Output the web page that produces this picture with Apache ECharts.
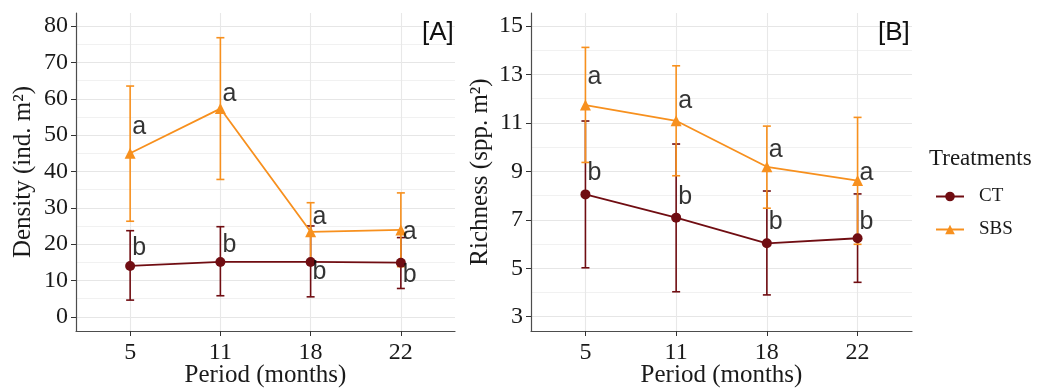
<!DOCTYPE html>
<html>
<head>
<meta charset="utf-8">
<script src="https://cdn.jsdelivr.net/npm/echarts@6/dist/echarts.min.js"></script>
<style>
  html, body { margin: 0; padding: 0; background: #fff; }
  #chart { width: 1038px; height: 389px; }
</style>
</head>
<body>
<div id="chart"></div>
<script>
// periods on the x axis (shown as evenly spaced categories)
const periods = ["5", "11", "18", "22"];
const treatments = ["CT", "SBS"];

// [A] density (ind. m2)
const densityCT = [14.0, 15.1, 15.1, 14.9];
const densityCTLow = [4.6, 5.8, 5.5, 7.8];
const densityCTHigh = [23.7, 24.8, 25.0, 21.8];
const densitySBS = [45.0, 57.3, 23.4, 23.9];
const densitySBSLow = [26.3, 37.8, 15.4, 13.8];
const densitySBSHigh = [63.5, 76.8, 31.4, 34.1];
const densityLetterCT = ["b", "b", "b", "b"];
const densityLetterCTAt = [18.9, 19.6, 12.4, 11.5];
const densityLetterSBS = ["a", "a", "a", "a"];
const densityLetterSBSAt = [52.3, 61.3, 27.5, 23.4];
const densityTicks = [0, 10, 20, 30, 40, 50, 60, 70, 80];
const densityMinor = [5, 15, 25, 35, 45, 55, 65, 75];

// [B] richness (spp. m2)
const richnessCT = [8.05, 7.09, 6.03, 6.24];
const richnessCTLow = [5.02, 4.03, 3.9, 4.42];
const richnessCTHigh = [11.08, 10.13, 8.19, 8.07];
const richnessSBS = [11.74, 11.09, 9.19, 8.62];
const richnessSBSLow = [9.37, 8.82, 7.48, 5.99];
const richnessSBSHigh = [14.12, 13.36, 10.87, 11.23];
const richnessLetterCT = ["b", "b", "b", "b"];
const richnessLetterCTAt = [8.92, 7.93, 6.92, 6.92];
const richnessLetterSBS = ["a", "a", "a", "a"];
const richnessLetterSBSAt = [12.88, 11.91, 9.88, 8.92];
const richnessTicks = [3, 5, 7, 9, 11, 13, 15];
const richnessMinor = [4, 6, 8, 10, 12, 14];

const colorCT = "#700d12";
const colorSBS = "#f7901e";
const serif = "Liberation Serif";
const sans = "Liberation Sans";

const chart = echarts.init(document.getElementById("chart"));

function errorBar(params, api) {
  const x = api.value(0);
  const lo = api.coord([x, api.value(1)]);
  const hi = api.coord([x, api.value(2)]);
  const w = 4;
  const style = { stroke: api.visual("color"), lineWidth: 1.6 };
  return {
    type: "group",
    children: [
      { type: "line", shape: { x1: lo[0], y1: lo[1], x2: hi[0], y2: hi[1] }, style },
      { type: "line", shape: { x1: lo[0] - w, y1: lo[1], x2: lo[0] + w, y2: lo[1] }, style },
      { type: "line", shape: { x1: hi[0] - w, y1: hi[1], x2: hi[0] + w, y2: hi[1] }, style },
    ],
  };
}

const points = (vals) => vals.map((v, i) => [i + 1, v]);
const bars = (lo, hi) => lo.map((v, i) => [i + 1, v, hi[i]]);
const letters = (at, txt) => at.map((v, i) => ({ value: [i + 1, v], name: txt[i] }));

function panelAxes(idx, yName, yMin, yMax, ticks, minor, nameGap) {
  const xAxis = {
    type: "value",
    gridIndex: idx,
    min: 0.4,
    max: 4.6,
    name: "Period (months)",
    nameLocation: "middle",
    nameGap: 32,
    nameMoveOverlap: false,
    nameTextStyle: { fontFamily: serif, fontSize: 25, color: "#1a1a1a" },
    axisLine: { show: true, onZero: false, lineStyle: { color: "#4d4d4d", width: 1.2 } },
    axisTick: { show: true, length: 5, customValues: [1, 2, 3, 4], lineStyle: { color: "#333" } },
    axisLabel: {
      customValues: [1, 2, 3, 4],
      formatter: (v) => periods[Math.round(v) - 1],
      fontFamily: serif,
      fontSize: 24,
      color: "#1a1a1a",
      margin: 10,
    },
    splitLine: { show: true, lineStyle: { color: "#e8e8e8", width: 1.1 } },
  };
  const yMajor = {
    type: "value",
    gridIndex: idx,
    min: yMin,
    max: yMax,
    name: yName,
    nameLocation: "middle",
    nameGap: nameGap,
    nameMoveOverlap: false,
    nameTextStyle: { fontFamily: serif, fontSize: 25, color: "#1a1a1a" },
    axisLine: { show: true, onZero: false, lineStyle: { color: "#4d4d4d", width: 1.2 } },
    axisTick: { show: true, length: 5, customValues: ticks, lineStyle: { color: "#333" } },
    axisLabel: { customValues: ticks, fontFamily: serif, fontSize: 24, color: "#1a1a1a", margin: 8 },
    splitLine: { show: true, lineStyle: { color: "#e6e6e6", width: 1.1 } },
  };
  const yMinor = {
    type: "value",
    gridIndex: idx,
    min: yMin,
    max: yMax,
    axisLine: { show: false, onZero: false },
    axisTick: { show: false, customValues: minor },
    axisLabel: { show: false, customValues: minor },
    splitLine: { show: true, lineStyle: { color: "#f1f1f1", width: 1 } },
  };
  return { xAxis, yAxes: [yMajor, yMinor] };
}

const axA = panelAxes(0, "Density (ind. m\u00b2)", -3.9, 83.6, densityTicks, densityMinor, 40);
const axB = panelAxes(1, "Richness (spp. m\u00b2)", 2.41, 15.54, richnessTicks, richnessMinor, 38);

function panelSeries(xi, yi, ct, ctLo, ctHi, sbs, sbsLo, sbsHi, ctAt, ctTxt, sbsAt, sbsTxt) {
  const common = { xAxisIndex: xi, yAxisIndex: yi, animation: false };
  const letterLabel = {
    show: true,
    position: "right",
    distance: 2,
    formatter: (p) => p.name,
    fontFamily: sans,
    fontSize: 25,
    color: "#000",
  };
  return [
    Object.assign({ type: "custom", renderItem: errorBar, itemStyle: { color: colorCT },
      encode: { x: 0, y: [1, 2] }, data: bars(ctLo, ctHi), z: 2 }, common),
    Object.assign({ type: "custom", renderItem: errorBar, itemStyle: { color: colorSBS },
      encode: { x: 0, y: [1, 2] }, data: bars(sbsLo, sbsHi), z: 2 }, common),
    Object.assign({ type: "line", name: "CT", data: points(ct), symbol: "circle", symbolSize: 10,
      itemStyle: { color: colorCT }, lineStyle: { color: colorCT, width: 1.8 }, z: 3 }, common),
    Object.assign({ type: "line", name: "SBS", data: points(sbs), symbol: "triangle", symbolSize: 11,
      itemStyle: { color: colorSBS }, lineStyle: { color: colorSBS, width: 1.8 }, z: 3 }, common),
    Object.assign({ type: "scatter", data: letters(ctAt, ctTxt), symbolSize: 0,
      label: letterLabel, z: 4, silent: true }, common),
    Object.assign({ type: "scatter", data: letters(sbsAt, sbsTxt), symbolSize: 0,
      label: letterLabel, z: 4, silent: true }, common),
  ];
}

const option = {
  backgroundColor: "#fff",
  animation: false,
  grid: [
    { left: 76, top: 13, width: 379, height: 318, outerBoundsMode: "none" },
    { left: 531, top: 13, width: 381, height: 318, outerBoundsMode: "none" },
  ],
  title: [
    { text: "[A]", left: 417, top: 15, textStyle: { fontFamily: sans, fontSize: 26, fontWeight: "normal", color: "#111" } },
    { text: "[B]", left: 873, top: 15, textStyle: { fontFamily: sans, fontSize: 26, fontWeight: "normal", color: "#111" } },
    { text: "Treatments", left: 924, top: 142, textStyle: { fontFamily: serif, fontSize: 23, fontWeight: "normal", color: "#1a1a1a" } },
  ],
  legend: {
    data: treatments,
    orient: "vertical",
    left: 930,
    top: 182,
    itemWidth: 28,
    itemHeight: 12,
    itemGap: 14,
    textStyle: { fontFamily: serif, fontSize: 19, color: "#1a1a1a", padding: [0, 0, 0, 10] },
  },
  xAxis: [axA.xAxis, Object.assign({}, axB.xAxis, { gridIndex: 1 })],
  yAxis: [axA.yAxes[0], axA.yAxes[1], axB.yAxes[0], axB.yAxes[1]],
  series: [].concat(
    panelSeries(0, 0, densityCT, densityCTLow, densityCTHigh, densitySBS, densitySBSLow, densitySBSHigh,
      densityLetterCTAt, densityLetterCT, densityLetterSBSAt, densityLetterSBS),
    panelSeries(1, 2, richnessCT, richnessCTLow, richnessCTHigh, richnessSBS, richnessSBSLow, richnessSBSHigh,
      richnessLetterCTAt, richnessLetterCT, richnessLetterSBSAt, richnessLetterSBS)
  ),
};

chart.setOption(option);
</script>
</body>
</html>
